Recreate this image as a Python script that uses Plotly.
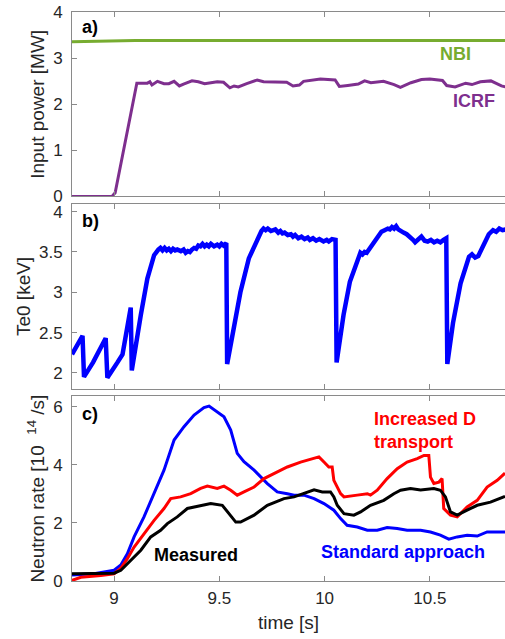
import plotly.graph_objects as go

# ---------- data ----------
nbi_t = [8.80, 8.95, 9.10, 10.86]
nbi_p = [3.36, 3.37, 3.385, 3.385]

icrf_t = [8.80, 8.99, 9.005, 9.108, 9.158, 9.17, 9.18, 9.206, 9.237, 9.26, 9.285, 9.31, 9.33,
          9.37, 9.40, 9.43, 9.46, 9.49, 9.52, 9.55, 9.57, 9.59, 9.63, 9.68, 9.71, 9.78, 9.82,
          9.85, 9.88, 9.90, 9.98, 10.05, 10.07, 10.11, 10.16, 10.19, 10.22, 10.28, 10.33,
          10.36, 10.41, 10.46, 10.50, 10.56, 10.58, 10.62, 10.67, 10.70, 10.74, 10.79, 10.84, 10.86]
icrf_p = [0, 0, 0.08, 2.46, 2.46, 2.49, 2.42, 2.50, 2.45, 2.45, 2.50, 2.40, 2.44,
          2.51, 2.49, 2.45, 2.47, 2.49, 2.48, 2.36, 2.40, 2.38, 2.45, 2.53, 2.49, 2.49, 2.48,
          2.40, 2.42, 2.50, 2.55, 2.53, 2.39, 2.41, 2.44, 2.51, 2.47, 2.50, 2.43,
          2.37, 2.47, 2.54, 2.55, 2.52, 2.41, 2.38, 2.46, 2.43, 2.49, 2.51, 2.40, 2.38]

te_t = [8.80, 8.85, 8.857, 8.90, 8.96, 8.968, 9.016, 9.04, 9.079, 9.084, 9.127, 9.158, 9.19,
        9.20, 9.21, 9.22, 9.23, 9.24, 9.25, 9.26, 9.27, 9.28, 9.29, 9.30, 9.317, 9.33, 9.34,
        9.35, 9.36, 9.37, 9.38, 9.39, 9.40, 9.41, 9.42, 9.43, 9.44, 9.45, 9.46, 9.475, 9.49,
        9.50, 9.51, 9.52, 9.533, 9.537, 9.57, 9.60, 9.64, 9.68, 9.70, 9.71, 9.72, 9.73, 9.745,
        9.766, 9.78, 9.79, 9.80, 9.81, 9.825, 9.84, 9.85, 9.86, 9.875, 9.89, 9.905, 9.92, 9.93,
        9.945, 9.96, 9.975, 9.995, 10.01, 10.02, 10.035, 10.052, 10.057, 10.09, 10.12, 10.16,
        10.17, 10.18, 10.19, 10.20, 10.226, 10.25, 10.27, 10.285, 10.30, 10.31, 10.32, 10.33,
        10.34, 10.35, 10.36, 10.375, 10.39, 10.40, 10.41, 10.42, 10.43, 10.445, 10.46, 10.475,
        10.49, 10.505, 10.52, 10.535, 10.55, 10.565, 10.578, 10.583, 10.61, 10.646, 10.686,
        10.70, 10.715, 10.73, 10.76, 10.78, 10.80, 10.815, 10.83, 10.845, 10.86]
te_v = [2.23, 2.46, 1.95, 2.13, 2.43, 1.94, 2.13, 2.23, 2.81, 2.03, 2.72, 3.17, 3.46,
        3.50, 3.53, 3.55, 3.52, 3.55, 3.52, 3.54, 3.51, 3.54, 3.52, 3.53, 3.51, 3.53, 3.49,
        3.51, 3.50, 3.53, 3.55, 3.54, 3.58, 3.57, 3.60, 3.57, 3.59, 3.57, 3.60, 3.57, 3.59,
        3.57, 3.60, 3.58, 3.61, 2.11, 2.55, 3.00, 3.42, 3.67, 3.76, 3.79, 3.77, 3.79, 3.76,
        3.78, 3.74, 3.76, 3.73, 3.74, 3.71, 3.72, 3.69, 3.71, 3.67, 3.69, 3.66, 3.68, 3.65,
        3.67, 3.64, 3.66, 3.63, 3.65, 3.63, 3.66, 3.65, 2.13, 2.72, 3.13, 3.44,
        3.49, 3.47, 3.50, 3.49, 3.59, 3.68, 3.75, 3.77, 3.79, 3.78, 3.81, 3.79,
        3.82, 3.78, 3.76, 3.74, 3.72, 3.70, 3.68, 3.65, 3.62, 3.66, 3.69, 3.64,
        3.63, 3.65, 3.62, 3.64, 3.62, 3.65, 3.67, 2.11, 2.62, 3.11, 3.44,
        3.47, 3.43, 3.45, 3.63, 3.72, 3.77, 3.75, 3.79, 3.77, 3.78]

meas_t = [8.80, 9.00, 9.032, 9.079, 9.127, 9.174, 9.221, 9.253, 9.30, 9.348, 9.411, 9.459,
          9.514, 9.554, 9.578, 9.601, 9.665, 9.728, 9.807, 9.855, 9.918, 9.95, 9.989, 10.028,
          10.044, 10.06, 10.092, 10.139, 10.171, 10.218, 10.281, 10.329, 10.361, 10.408,
          10.456, 10.519, 10.55, 10.574, 10.598, 10.63, 10.677, 10.725, 10.788, 10.857]
meas_n = [0.25, 0.27, 0.37, 0.71, 1.06, 1.52, 1.75, 1.98, 2.21, 2.50, 2.61, 2.67,
          2.61, 2.27, 2.03, 2.03, 2.27, 2.61, 2.84, 2.90, 3.07, 3.14, 3.07, 3.07,
          2.90, 2.61, 2.32, 2.27, 2.38, 2.61, 2.78, 3.01, 3.13, 3.19,
          3.14, 3.19, 3.13, 2.90, 2.38, 2.27, 2.44, 2.61, 2.72, 2.92]

incd_t = [8.80, 8.842, 8.937, 9.00, 9.032, 9.063, 9.095, 9.142, 9.19, 9.237, 9.269, 9.316,
          9.364, 9.411, 9.443, 9.49, 9.522, 9.554, 9.585, 9.617, 9.665, 9.712, 9.76, 9.823,
          9.886, 9.95, 9.973, 9.997, 10.02, 10.036, 10.044, 10.076, 10.092, 10.155, 10.203,
          10.218, 10.25, 10.297, 10.345, 10.392, 10.44, 10.472, 10.495, 10.503, 10.519,
          10.543, 10.558, 10.566, 10.598, 10.63, 10.677, 10.725, 10.772, 10.82, 10.857]
incd_n = [0.02, 0.13, 0.19, 0.25, 0.44, 0.77, 1.17, 1.63, 2.09, 2.50, 2.84, 2.90,
          3.01, 3.19, 3.27, 3.19, 3.27, 3.13, 2.96, 3.07, 3.24, 3.53, 3.70, 3.93,
          4.10, 4.22, 4.28, 4.10, 3.93, 3.93, 3.47, 3.01, 2.90, 2.96, 3.01,
          2.96, 3.13, 3.53, 3.87, 4.10, 4.22, 4.33, 4.33, 3.58, 3.36,
          3.41, 3.53, 2.50, 2.27, 2.21, 2.55, 2.78, 3.24, 3.47, 3.72]

std_t = [8.80, 8.905, 9.00, 9.032, 9.063, 9.095, 9.142, 9.19, 9.237, 9.285, 9.332, 9.38,
         9.427, 9.451, 9.49, 9.522, 9.554, 9.585, 9.617, 9.665, 9.728, 9.775, 9.823, 9.855,
         9.902, 9.95, 9.997, 10.044, 10.076, 10.107, 10.155, 10.203, 10.25, 10.297, 10.345,
         10.392, 10.456, 10.503, 10.55, 10.59, 10.63, 10.677, 10.725, 10.772, 10.857]
std_n = [0.21, 0.25, 0.37, 0.55, 0.94, 1.52, 2.21, 3.01, 3.82, 4.86, 5.32, 5.72,
         5.98, 6.03, 5.83, 5.66, 5.20, 4.40, 4.11, 3.82, 3.36, 3.07, 3.01, 2.96,
         2.96, 2.84, 2.67, 2.44, 2.15, 1.92, 1.86, 1.75, 1.75, 1.84, 1.81,
         1.75, 1.75, 1.69, 1.58, 1.44, 1.52, 1.58, 1.55, 1.69, 1.69]

x_range = [8.80, 10.857]
x_ticks = [9, 9.5, 10, 10.5]
x_ticklabels = ["9", "9.5", "10", "10.5"]
ya_ticks = [0, 1, 2, 3, 4]
yb_ticks = [2, 2.5, 3, 3.5, 4]
yb_ticklabels = ["2", "2.5", "3", "3.5", "4"]
yc_ticks = [0, 2, 4, 6]

# ---------- figure ----------
FONT = "Liberation Sans, Arial, sans-serif"
FRAME = "#8a8a8a"
TXT = "#262626"

fig = go.Figure()
fig.add_trace(go.Scatter(x=nbi_t, y=nbi_p, mode="lines", line=dict(color="#77AC30", width=3),
                         xaxis="x3", yaxis="y3"))
fig.add_trace(go.Scatter(x=icrf_t, y=icrf_p, mode="lines", line=dict(color="#7E2F8E", width=3),
                         xaxis="x3", yaxis="y3"))
fig.add_trace(go.Scatter(x=te_t, y=te_v, mode="lines", line=dict(color="#0000FF", width=4.5),
                         xaxis="x2", yaxis="y2"))
fig.add_trace(go.Scatter(x=std_t, y=std_n, mode="lines", line=dict(color="#0000FF", width=3),
                         xaxis="x", yaxis="y"))
fig.add_trace(go.Scatter(x=incd_t, y=incd_n, mode="lines", line=dict(color="#FF0000", width=3),
                         xaxis="x", yaxis="y"))
fig.add_trace(go.Scatter(x=meas_t, y=meas_n, mode="lines", line=dict(color="#000000", width=3),
                         xaxis="x", yaxis="y"))

H = 580.7
def dom(top, bot):
    return [(H - bot) / H, (H - top) / H]

xcommon = dict(range=x_range, tickvals=x_ticks, ticktext=x_ticklabels, ticks="inside",
               ticklen=5, tickcolor=FRAME, showline=True, linecolor=FRAME, linewidth=1,
               mirror="ticks", showgrid=False, zeroline=False, automargin=False,
               ticklabelstandoff=2,
               tickfont=dict(family=FONT, size=17, color=TXT))
ycommon = dict(ticks="inside", ticklen=5, tickcolor=FRAME, showline=True, linecolor=FRAME,
               linewidth=1, mirror=False, showgrid=False, zeroline=False, automargin=False,
               ticklabelstandoff=5,
               tickfont=dict(family=FONT, size=17, color=TXT))
tfont = dict(family=FONT, size=19, color=TXT)

fig.update_layout(
    width=505, height=639,
    margin=dict(l=72, r=0, t=0, b=58.3),
    paper_bgcolor="white", plot_bgcolor="white",
    showlegend=False,
    xaxis=dict(**xcommon, anchor="y", title=dict(text="time [s]", font=tfont, standoff=8)),
    xaxis2=dict(**xcommon, anchor="y2", matches="x", showticklabels=False),
    xaxis3=dict(**xcommon, anchor="y3", matches="x", showticklabels=False),
    yaxis=dict(**ycommon, domain=dom(396, 580.7), range=[0, 6.37], tickvals=yc_ticks,
               anchor="x",
               title=dict(text="Neutron rate [10&nbsp;&nbsp;<sup>14</sup> /s]", font=tfont, standoff=3)),
    yaxis2=dict(**ycommon, domain=dom(204.3, 388.3), range=[1.806, 4.09], tickvals=yb_ticks,
                ticktext=yb_ticklabels, anchor="x2",
                title=dict(text="Te0 [keV]", font=tfont, standoff=3)),
    yaxis3=dict(**ycommon, domain=dom(12.3, 196.3), range=[0, 4], tickvals=ya_ticks,
                anchor="x3",
                title=dict(text="Input power [MW]", font=tfont, standoff=3)),
)

bfont = dict(family=FONT, size=18, color="black")
ann = [
    dict(text="<b>a)</b>", x=8.84, y=3.69, xref="x3", yref="y3", xanchor="left", font=bfont),
    dict(text="<b>b)</b>", x=8.84, y=3.88, xref="x2", yref="y2", xanchor="left", font=bfont),
    dict(text="<b>c)</b>", x=8.84, y=5.77, xref="x", yref="y", xanchor="left", font=bfont),
    dict(text="<b>NBI</b>", x=10.622, y=3.09, xref="x3", yref="y3",
         font=dict(family=FONT, size=18, color="#77AC30")),
    dict(text="<b>ICRF</b>", x=10.709, y=2.08, xref="x3", yref="y3",
         font=dict(family=FONT, size=18, color="#7E2F8E")),
    dict(text="<b>Measured</b>", x=9.389, y=0.886, xref="x", yref="y", font=bfont),
    dict(text="<b>Standard approach</b>", x=10.374, y=1.0, xref="x", yref="y",
         font=dict(family=FONT, size=18, color="#0000FF")),
    dict(text="<b>Increased D<br>transport</b>", x=10.2266, y=5.2, xref="x", yref="y",
         xanchor="left", align="left", font=dict(family=FONT, size=18, color="#FF0000")),
]
for a in ann:
    a["showarrow"] = False
    fig.add_annotation(**a)

fig.write_html("out.html", config={"displayModeBar": False},
               post_script="document.body.style.margin='0';document.body.style.overflow='hidden';")
